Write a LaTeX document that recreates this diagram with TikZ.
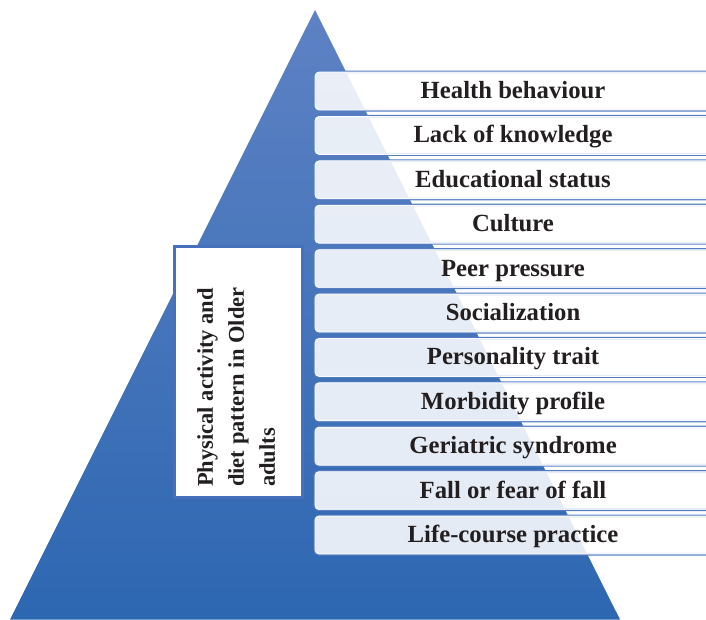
\documentclass[tikz,border=0pt]{standalone}
\usepackage{fontspec}
\setmainfont{Liberation Serif}
\definecolor{trilight}{RGB}{94,130,196}
\definecolor{tridark}{RGB}{45,103,177}
\definecolor{lineblue}{RGB}{84,124,194}
\definecolor{rimblue}{RGB}{70,112,188}
\definecolor{textblack}{RGB}{35,31,32}
\begin{document}
\begin{tikzpicture}[x=1pt,y=-1pt,
  factor/.style={rectangle, rounded corners=4pt, minimum width=396pt, minimum height=38pt,
    inner sep=0pt, fill=white, fill opacity=0.87, text opacity=1, draw=white, line width=0.7pt,
    preaction={draw=lineblue, line width=3pt},
    font=\fontsize{24.7}{28}\selectfont\bfseries, text=textblack,
    text height=20pt, text depth=5pt},
  mainbox/.style={rectangle, minimum width=128pt, minimum height=251pt, inner sep=0pt,
    fill=white, draw=rimblue, line width=3pt},
  maintext/.style={rotate=90, anchor=north west, inner sep=0pt, align=left,
    font=\fontsize{22.5}{31}\selectfont\bfseries, text=textblack}
]
\useasboundingbox (0,0) rectangle (706,619);
\clip (0,0) rectangle (706,619);
\coordinate (apex) at (315,10);
\coordinate (bl) at (10,619.5);
\coordinate (br) at (620,619.5);
\shade[top color=trilight, middle color=tridark, bottom color=tridark] (apex) -- (bl) -- (br) -- cycle;
\foreach \t [count=\i from 0] in {Health behaviour, Lack of knowledge, Educational status, Culture, Peer pressure, Socialization, Personality trait, Morbidity profile, Geriatric syndrome, Fall or fear of fall, Life-course practice}
  \node[factor] (f\i) at (513,{91+44.4*\i}) {\t};
\node[mainbox] (main) at (238,371.5) {};
\node[maintext] (maintxt) at (197,487) {Physical activity and\\diet pattern in Older\\adults};
\end{tikzpicture}
\end{document}
